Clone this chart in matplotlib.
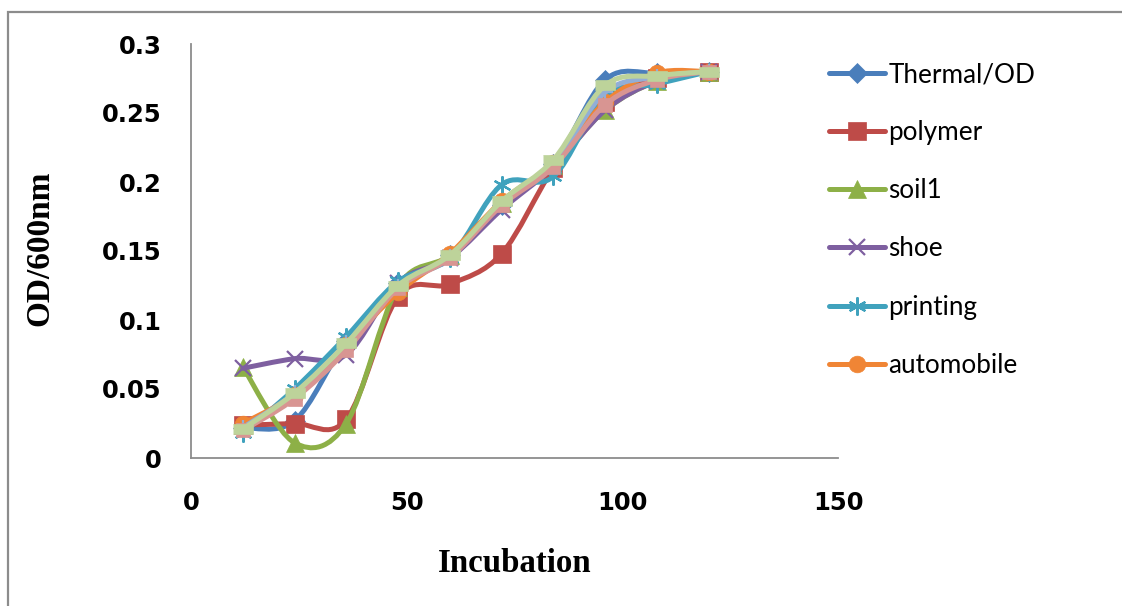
from matplotlib import pyplot as plt
from matplotlib.path import Path
from matplotlib.patches import PathPatch, Rectangle
from matplotlib.lines import Line2D
import numpy as np

hours = [12, 24, 36, 48, 60, 72, 84, 96, 108, 120]

thermal = [0.022, 0.027, 0.085, 0.127, 0.147, 0.183, 0.213, 0.274, 0.279, 0.280]
polymer = [0.024, 0.025, 0.028, 0.117, 0.126, 0.148, 0.210, 0.258, 0.275, 0.280]
soil1 = [0.066, 0.011, 0.025, 0.124, 0.147, 0.185, 0.212, 0.252, 0.273, 0.280]
shoe = [0.065, 0.072, 0.075, 0.127, 0.145, 0.180, 0.211, 0.252, 0.273, 0.280]
printing = [0.018, 0.050, 0.088, 0.128, 0.145, 0.198, 0.204, 0.262, 0.271, 0.280]
automobile = [0.025, 0.046, 0.082, 0.120, 0.148, 0.186, 0.214, 0.258, 0.279, 0.280]
series7 = [0.022, 0.047, 0.083, 0.124, 0.146, 0.184, 0.213, 0.265, 0.276, 0.280]
series8 = [0.020, 0.043, 0.078, 0.123, 0.145, 0.183, 0.211, 0.256, 0.274, 0.280]
series9 = [0.021, 0.047, 0.083, 0.125, 0.147, 0.186, 0.216, 0.270, 0.277, 0.280]

names = ['Thermal/OD', 'polymer', 'soil1', 'shoe', 'printing', 'automobile']

x_ticks = [0, 50, 100, 150]
x_tick_labels = ['0', '50', '100', '150']
y_ticks = [0, 0.05, 0.1, 0.15, 0.2, 0.25, 0.3]
y_tick_labels = ['0', '0.05', '0.1', '0.15', '0.2', '0.25', '0.3']

# excel-ish styles: color, marker, marker size
styles = [
    ('#4A7EBB', 'D', 10),
    ('#BE4B48', 's', 13),
    ('#8DB047', '^', 13),
    ('#7E5FA0', 'x', 12),
    ('#40A2BD', (6, 2, 0), 13),
    ('#F08535', 'o', 12),
    ('#92AED6', '+', 12),
    ('#D89592', 's', 10),
    ('#BDD39A', [(-1, -0.55), (1, -0.55), (1, 0.55), (-1, 0.55)], 14),
]


def smooth_path(xs, ys):
    # bezier through points, like excel's smoothed line
    xs = np.asarray(xs, float)
    ys = np.asarray(ys, float)
    pts = np.column_stack([xs, ys])
    n = len(pts)
    verts = [pts[0]]
    codes = [Path.MOVETO]
    for i in range(n - 1):
        p0 = pts[i - 1] if i > 0 else pts[i]
        p1 = pts[i]
        p2 = pts[i + 1]
        p3 = pts[i + 2] if i + 2 < n else pts[i + 1]
        c1 = p1 + (p2 - p0) / 6.0
        c2 = p2 - (p3 - p1) / 6.0
        verts += [c1, c2, p2]
        codes += [Path.CURVE4] * 3
    return Path(verts, codes)


def main():
    fig = plt.figure(figsize=(11.22, 6.06), dpi=100)
    ax = fig.add_axes([191 / 1122, 1 - 458 / 606, (838 - 191) / 1122, (458 - 44) / 606])

    # outer chart border (cut off at right/bottom)
    fig.patches.append(Rectangle((8 / 1122, -0.1), 1.2, 1.1 - 12 / 606, transform=fig.transFigure,
                                 fill=False, edgecolor='#8c8c8c', linewidth=1.6))

    all_series = [thermal, polymer, soil1, shoe, printing, automobile, series7, series8, series9]
    handles = []
    for i, ys in enumerate(all_series):
        color, marker, ms = styles[i]
        ax.add_patch(PathPatch(smooth_path(hours, ys), fill=False, edgecolor=color,
                               linewidth=3.6, capstyle='round', joinstyle='round', zorder=2 + i * 0.1))
        thin = marker in ('x', '+') or isinstance(marker, tuple)
        ax.plot(hours, ys, linestyle='none', marker=marker, markersize=ms, color=color,
                markeredgecolor=color, markeredgewidth=1.6 if thin else 0.5, zorder=2.05 + i * 0.1)
        if i < len(names):
            handles.append(Line2D([0], [0], color=color, linewidth=3.6, marker=marker, markersize=ms,
                                  markeredgecolor=color, markeredgewidth=1.6 if thin else 0.5,
                                  solid_capstyle='round'))

    tick_font = {'family': 'DejaVu Sans', 'weight': 'bold', 'size': 17.5}
    ax.set_xlim(0, 150)
    ax.set_ylim(0, 0.3)
    ax.set_xticks(x_ticks)
    ax.set_xticklabels(x_tick_labels, fontdict=tick_font)
    ax.set_yticks(y_ticks)
    ax.set_yticklabels(y_tick_labels, fontdict=tick_font)
    for s in ['top', 'right']:
        ax.spines[s].set_visible(False)
    for s in ['left', 'bottom']:
        ax.spines[s].set_color('#8c8c8c')
        ax.spines[s].set_linewidth(1.3)
    ax.tick_params(length=0)
    ax.tick_params(axis='x', pad=24)
    ax.tick_params(axis='y', pad=21)

    fig.text(515 / 1122, 1 - 563 / 606, 'Incubation', ha='center', va='center',
             fontfamily='Liberation Serif', fontweight='bold', fontsize=23.7)
    fig.text(40 / 1122, 1 - 248 / 606, 'OD/600nm', ha='center', va='center', rotation=90,
             fontfamily='Liberation Serif', fontweight='bold', fontsize=24)

    fig.legend(handles, names, loc='upper left', bbox_to_anchor=(829 / 1122, 1 - 62 / 606),
               frameon=False, prop={'family': 'Lato', 'size': 18.8}, handlelength=2.15,
               handletextpad=0.12, labelspacing=1.27, borderaxespad=0, borderpad=0)

    fig.savefig('out.png', dpi=100)


if __name__ == "__main__":
    main()
